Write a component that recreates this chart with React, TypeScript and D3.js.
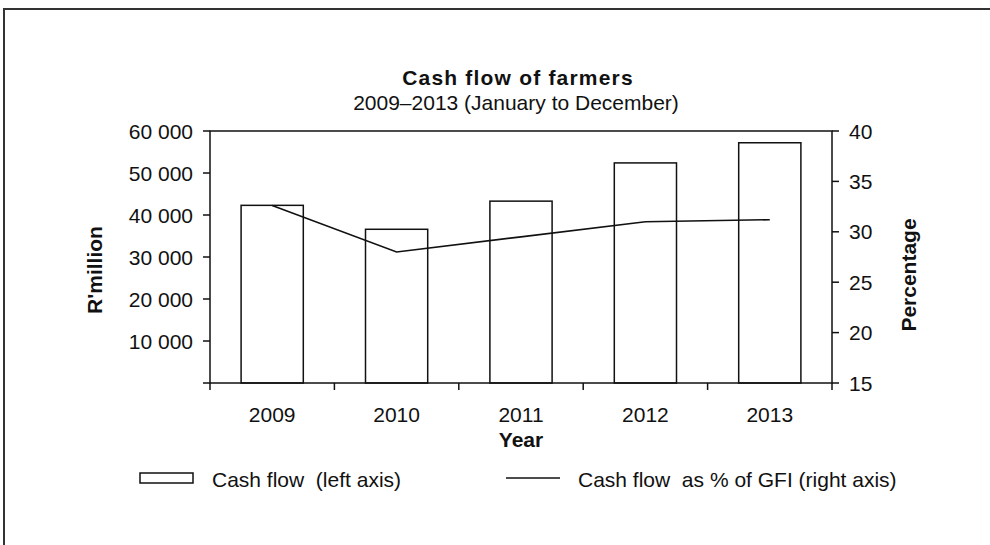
import { useEffect, useRef } from 'react';
import * as d3 from 'd3';

// Chart data
const years = ['2009', '2010', '2011', '2012', '2013'];
const cashFlow = [42300, 36600, 43300, 52400, 57200]; // R'million, left axis
const cashFlowPctGfi = [32.6, 28.0, 29.5, 31.0, 31.2]; // %, right axis
const leftTicks = [0, 10000, 20000, 30000, 40000, 50000, 60000];
const rightTicks = [15, 20, 25, 30, 35, 40];

const FONT = "'Liberation Sans', Arial, sans-serif";
const INK = '#111';

export default function App() {
  const svgRef = useRef<SVGSVGElement>(null);

  useEffect(() => {
    if (!svgRef.current) return;
    const svg = d3.select(svgRef.current);
    svg.selectAll('*').remove();

    const plot = { left: 210, right: 832, top: 131, bottom: 383 };
    const tick = 7;

    const x = d3
      .scaleBand<string>()
      .domain(years)
      .range([plot.left, plot.right])
      .paddingInner(0.5)
      .paddingOuter(0.25);
    const yLeft = d3.scaleLinear().domain([0, 60000]).range([plot.bottom, plot.top]);
    const yRight = d3.scaleLinear().domain([15, 40]).range([plot.bottom, plot.top]);

    // outer chart frame (cut off on the right and bottom)
    svg
      .append('rect')
      .attr('x', 4)
      .attr('y', 9)
      .attr('width', 1100)
      .attr('height', 700)
      .attr('fill', '#fff')
      .attr('stroke', '#333')
      .attr('stroke-width', 2);

    // titles
    svg
      .append('text')
      .attr('x', 518)
      .attr('y', 85)
      .attr('text-anchor', 'middle')
      .style('font', `bold 21px ${FONT}`)
      .style('letter-spacing', '1.2px')
      .style('fill', INK)
      .text('Cash flow of farmers');
    svg
      .append('text')
      .attr('x', 516)
      .attr('y', 110)
      .attr('text-anchor', 'middle')
      .style('font', `21px ${FONT}`)
      .style('fill', INK)
      .text('2009–2013 (January to December)');

    // bars
    svg
      .append('g')
      .selectAll('rect')
      .data(years)
      .enter()
      .append('rect')
      .attr('x', (d) => x(d)!)
      .attr('y', (d, i) => yLeft(cashFlow[i]))
      .attr('width', x.bandwidth())
      .attr('height', (d, i) => plot.bottom - yLeft(cashFlow[i]))
      .attr('fill', '#fff')
      .attr('stroke', INK)
      .attr('stroke-width', 1.5);

    // line on right axis
    const line = d3
      .line<number>()
      .x((d, i) => x(years[i])! + x.bandwidth() / 2)
      .y((d) => yRight(d));
    svg
      .append('path')
      .datum(cashFlowPctGfi)
      .attr('fill', 'none')
      .attr('stroke', INK)
      .attr('stroke-width', 1.6)
      .attr('d', line);

    // plot area border
    svg
      .append('rect')
      .attr('x', plot.left)
      .attr('y', plot.top)
      .attr('width', plot.right - plot.left)
      .attr('height', plot.bottom - plot.top)
      .attr('fill', 'none')
      .attr('stroke', INK)
      .attr('stroke-width', 1.5);

    const fmt = (v: number) => (v === 0 ? '' : d3.format(',')(v).replace(/,/g, ' '));

    // left axis
    const gl = svg.append('g');
    leftTicks.forEach((v) => {
      gl.append('line')
        .attr('x1', plot.left - tick)
        .attr('x2', plot.left)
        .attr('y1', yLeft(v))
        .attr('y2', yLeft(v))
        .attr('stroke', INK)
        .attr('stroke-width', 1.5);
      gl.append('text')
        .attr('x', plot.left - tick - 10)
        .attr('y', yLeft(v) + 7.5)
        .attr('text-anchor', 'end')
        .style('font', `21px ${FONT}`)
        .style('fill', INK)
        .text(fmt(v));
    });

    // right axis
    const gr = svg.append('g');
    rightTicks.forEach((v) => {
      gr.append('line')
        .attr('x1', plot.right)
        .attr('x2', plot.right + tick)
        .attr('y1', yRight(v))
        .attr('y2', yRight(v))
        .attr('stroke', INK)
        .attr('stroke-width', 1.5);
      gr.append('text')
        .attr('x', plot.right + tick + 10)
        .attr('y', yRight(v) + 7.5)
        .style('font', `21px ${FONT}`)
        .style('fill', INK)
        .text(String(v));
    });

    // bottom axis: ticks between categories
    const gb = svg.append('g');
    const bounds = years.map((d) => x(d)! - (x.step() - x.bandwidth()) / 2).concat([plot.right]);
    bounds.forEach((bx) => {
      gb.append('line')
        .attr('x1', bx)
        .attr('x2', bx)
        .attr('y1', plot.bottom)
        .attr('y2', plot.bottom + tick)
        .attr('stroke', INK)
        .attr('stroke-width', 1.5);
    });
    years.forEach((d) => {
      gb.append('text')
        .attr('x', x(d)! + x.bandwidth() / 2)
        .attr('y', 422)
        .attr('text-anchor', 'middle')
        .style('font', `21px ${FONT}`)
        .style('fill', INK)
        .text(d);
    });

    // axis titles
    svg
      .append('text')
      .attr('x', (plot.left + plot.right) / 2)
      .attr('y', 447)
      .attr('text-anchor', 'middle')
      .style('font', `bold 21px ${FONT}`)
      .style('fill', INK)
      .text('Year');
    svg
      .append('text')
      .attr('transform', 'translate(102,270) rotate(-90)')
      .attr('text-anchor', 'middle')
      .style('font', `bold 21px ${FONT}`)
      .style('fill', INK)
      .text("R'million");
    svg
      .append('text')
      .attr('transform', 'translate(916,275) rotate(-90)')
      .attr('text-anchor', 'middle')
      .style('font', `bold 21px ${FONT}`)
      .style('fill', INK)
      .text('Percentage');

    // legend
    const lg = svg.append('g');
    lg.append('rect')
      .attr('x', 140)
      .attr('y', 473)
      .attr('width', 53)
      .attr('height', 10)
      .attr('fill', '#fff')
      .attr('stroke', INK)
      .attr('stroke-width', 1.5);
    lg.append('text')
      .attr('x', 212)
      .attr('y', 487)
      .style('font', `21px ${FONT}`)
      .style('fill', INK)
      .style('white-space', 'pre')
      .text('Cash flow  (left axis)');
    lg.append('line')
      .attr('x1', 506)
      .attr('x2', 560)
      .attr('y1', 478)
      .attr('y2', 478)
      .attr('stroke', INK)
      .attr('stroke-width', 1.6);
    lg.append('text')
      .attr('x', 578)
      .attr('y', 487)
      .style('font', `21px ${FONT}`)
      .style('fill', INK)
      .style('white-space', 'pre')
      .text('Cash flow  as % of GFI (right axis)');
  }, []);

  return (
    <svg
      ref={svgRef}
      width={990}
      height={545}
      style={{ position: 'absolute', left: 0, top: 0, background: '#fff' }}
    />
  );
}
